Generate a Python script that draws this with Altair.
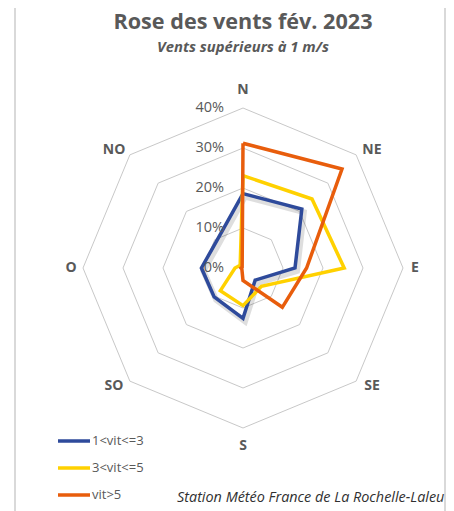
import altair as alt
import pandas as pd

# ---- data ----
directions = ["N", "NE", "E", "SE", "S", "SO", "O", "NO"]
series_names = ["1<vit<=3", "3<vit<=5", "vit>5"]
v_low = [18.6, 20.8, 13.0, 4.3, 12.6, 10.2, 10.4, 9.4]
v_mid = [23.1, 24.4, 25.3, 6.5, 9.4, 8.0, 2.0, 1.0]
v_high = [31.2, 35.0, 15.9, 13.9, 3.1, 0.4, 0.5, 0.3]
ring_levels = [10, 20, 30, 40]
tick_values = [0, 10, 20, 30, 40]
tick_labels = ["0%", "10%", "20%", "30%", "40%"]
colors = ["#2E4A9B", "#FFD100", "#E85D0C"]

title_text = "Rose des vents fév. 2023"
subtitle_text = "Vents supérieurs à 1 m/s"
footer_text = "Station Météo France de La Rochelle-Laleu"

GREY = "#595959"
FONT = "Open Sans"

rows = []
for name, vals in zip(series_names, [v_low, v_mid, v_high]):
    for i in range(len(directions) + 1):
        rows.append({"series": name, "idx": i % 8, "ord": i, "value": vals[i % 8]})
df = pd.DataFrame(rows)

grid = pd.DataFrame([{"ring": r, "idx": i % 8, "ord": i, "value": r}
                     for r in ring_levels for i in range(9)])
dirs_df = pd.DataFrame({"dir": directions, "idx": list(range(8))})
ticks_df = pd.DataFrame({"value": tick_values, "label": tick_labels})
one = pd.DataFrame({"t": [0]})

xs = alt.Scale(domain=[-40, 40])
ys = alt.Scale(domain=[-40, 40])
X = alt.X("px:Q", scale=xs, axis=None)
Y = alt.Y("py:Q", scale=ys, axis=None)

polar_x = "datum.value*sin(datum.idx*PI/4)"
polar_y = "datum.value*cos(datum.idx*PI/4)"

grid_layer = alt.Chart(grid).transform_calculate(px=polar_x, py=polar_y).mark_line(
    color="#C8C8C8", strokeWidth=1
).encode(x=X, y=Y, detail="ring:N", order="ord:Q")

shadow = alt.Chart(df).transform_filter(
    alt.datum.series == series_names[0]
).transform_calculate(px=polar_x, py=polar_y).mark_line(
    color="#000000", opacity=0.13, strokeWidth=6, xOffset=2, yOffset=3
).encode(x=X, y=Y, order="ord:Q")

lines = alt.Chart(df).transform_calculate(px=polar_x, py=polar_y).mark_line(
    strokeWidth=3.5, strokeJoin="miter"
).encode(
    x=X, y=Y, order="ord:Q",
    color=alt.Color(
        "series:N",
        scale=alt.Scale(domain=series_names, range=colors),
        sort=series_names,
        legend=alt.Legend(
            title=None, orient="none", legendX=-27, legendY=315,
            symbolType="stroke", symbolSize=1024, symbolStrokeWidth=3.5,
            labelFont=FONT, labelFontSize=13, labelColor=GREY,
            labelOffset=0, rowPadding=2, padding=0,
        ),
    ),
)

dir_labels = alt.Chart(dirs_df).transform_calculate(
    px="sin(datum.idx*PI/4)*(datum.idx % 2 == 1 ? 45.6 : 43)",
    py="cos(datum.idx*PI/4)*(datum.idx % 2 == 1 ? 41.7 : 44.6)",
).mark_text(
    font=FONT, fontSize=14, fontWeight="bold", color=GREY, baseline="middle"
).encode(x=X, y=Y, text="dir:N")

tick_layer = alt.Chart(ticks_df).transform_calculate(px="0", py="datum.value").mark_text(
    font=FONT, fontSize=14.5, color=GREY, align="right", baseline="middle", dx=-19
).encode(x=X, y=Y, text="label:N")

title_layer = alt.Chart(one).mark_text(
    text=title_text, font=FONT, fontSize=21.6, fontWeight="bold", color=GREY,
    align="center", baseline="alphabetic"
).encode(x=alt.value(160), y=alt.value(-79.5))

subtitle_layer = alt.Chart(one).mark_text(
    text=subtitle_text, font=FONT, fontSize=14.8, fontWeight="bold", fontStyle="italic",
    color=GREY, align="center", baseline="alphabetic"
).encode(x=alt.value(160), y=alt.value(-56))

footer_layer = alt.Chart(one).mark_text(
    text=footer_text, font=FONT, fontSize=14.4, fontStyle="italic", color="#303030",
    align="left", baseline="alphabetic"
).encode(x=alt.value(94), y=alt.value(394))

left_edge = alt.Chart(one).mark_rule(stroke="#D9D9D9", strokeWidth=2).encode(
    x=alt.value(-68), y=alt.value(-100), y2=alt.value(410)
)
right_edge = alt.Chart(one).mark_rule(stroke="#D9D9D9", strokeWidth=2).encode(
    x=alt.value(362), y=alt.value(-100), y2=alt.value(410)
)

chart = alt.layer(
    left_edge, right_edge, grid_layer, shadow, lines, dir_labels, tick_layer,
    title_layer, subtitle_layer, footer_layer
).properties(
    width=320, height=320,
    autosize=alt.AutoSizeParams(type="none"),
    padding={"left": 75, "top": 100, "right": 43, "bottom": 83},
).configure_view(stroke=None)

chart.save("out.html", embed_options={"renderer": "svg", "actions": False})
